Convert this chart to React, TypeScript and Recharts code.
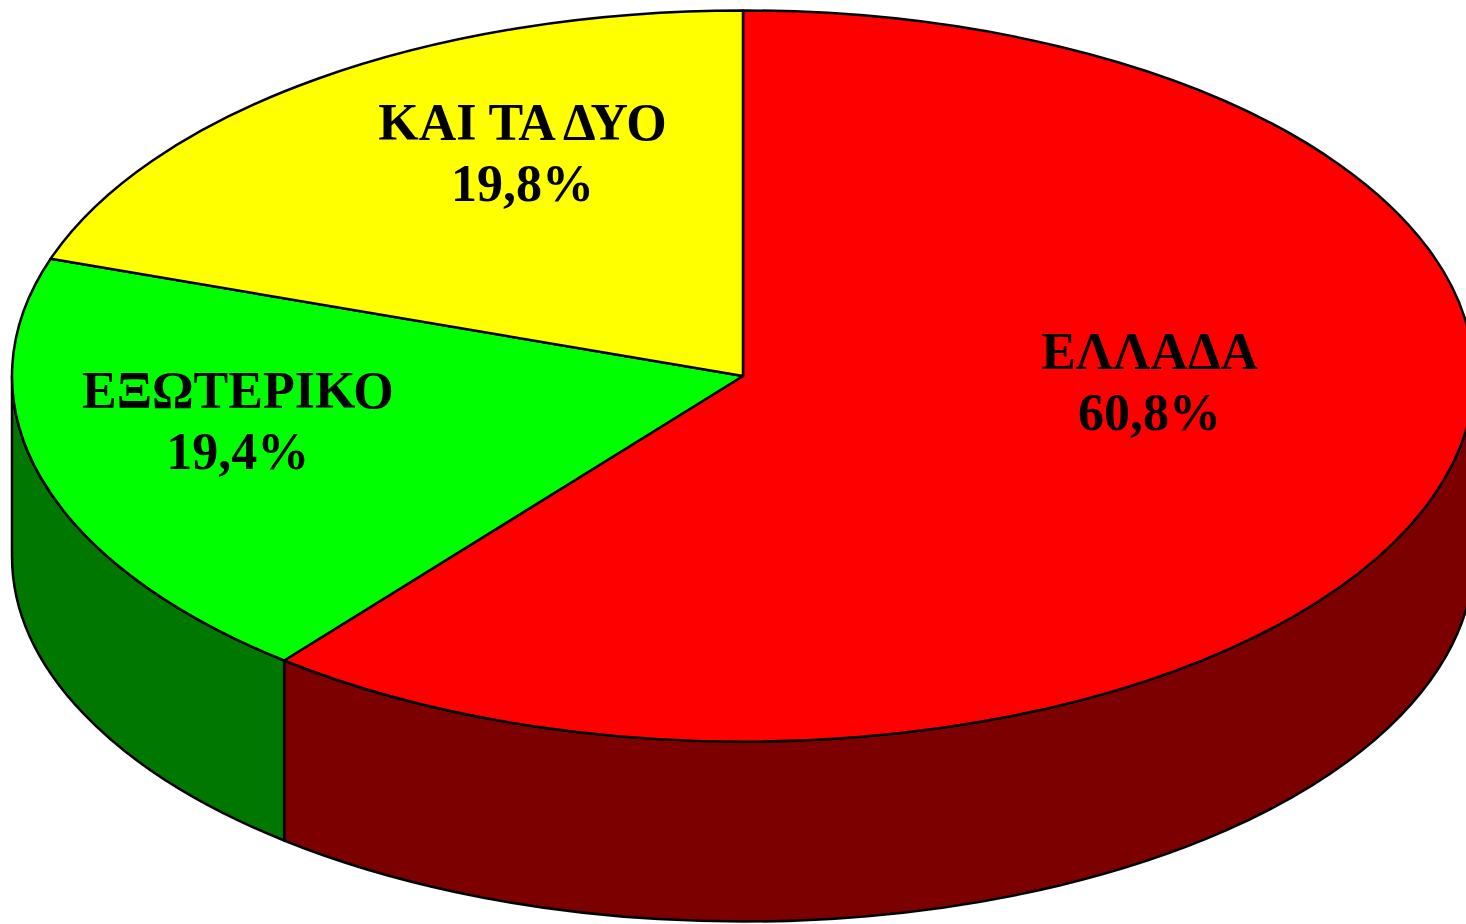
import React from "react";
import { PieChart, Pie } from "recharts";

const NAMES = ["ΕΛΛΑΔΑ", "ΕΞΩΤΕΡΙΚΟ", "ΚΑΙ ΤΑ ΔΥΟ"];
const VALUES = [60.8, 19.4, 19.8];
const TOP_COLORS = ["#ff0000", "#00ff00", "#ffff00"];
const SIDE_COLORS = ["#7d0000", "#007800", "#7d7d00"];

const data = NAMES.map((name, i) => ({
  name,
  value: VALUES[i],
  fill: TOP_COLORS[i],
  side: SIDE_COLORS[i],
}));

// perspective squash of the pie and thickness of the slab
const TILT = 0.5;
const DEPTH = 180;
const RAD = Math.PI / 180;
// excel nudges its labels to fit inside the slices
const LABEL_NUDGE = [[-7, -27], [-84, 24], [35, -5]];

const pt = (cx: number, cy: number, rx: number, ry: number, a: number, dy = 0) =>
  `${cx + rx * Math.cos(a * RAD)},${cy - ry * Math.sin(a * RAD) + dy}`;

function Slice3D(props: any) {
  const { cx, cy, outerRadius, startAngle, endAngle, fill, payload } = props;
  const rx = outerRadius;
  const ry = outerRadius * TILT;
  const hi = Math.max(startAngle, endAngle);
  const lo = Math.min(startAngle, endAngle);

  // walls: the parts of the arc that face the viewer (front half of the ellipse)
  const walls: React.ReactNode[] = [];
  for (let k = -2; k <= 1; k++) {
    const a1 = Math.min(hi, 360 * k);
    const a2 = Math.max(lo, 360 * k - 180);
    if (a1 - a2 <= 0.01) continue;
    const large = a1 - a2 > 180 ? 1 : 0;
    const d =
      `M${pt(cx, cy, rx, ry, a1)} A${rx},${ry} 0 ${large} 1 ${pt(cx, cy, rx, ry, a2)} ` +
      `L${pt(cx, cy, rx, ry, a2, DEPTH)} A${rx},${ry} 0 ${large} 0 ${pt(cx, cy, rx, ry, a1, DEPTH)} Z`;
    walls.push(
      <path key={k} d={d} fill={payload?.side ?? "#700"} stroke="#000" strokeWidth={2.5} strokeLinejoin="round" />
    );
  }

  const large = hi - lo > 180 ? 1 : 0;
  const top =
    `M${cx},${cy} L${pt(cx, cy, rx, ry, hi)} ` +
    `A${rx},${ry} 0 ${large} 1 ${pt(cx, cy, rx, ry, lo)} Z`;

  return (
    <g>
      {walls}
      <path d={top} fill={fill} stroke="#000" strokeWidth={2.5} strokeLinejoin="round" />
    </g>
  );
}

function renderLabel(props: any) {
  const { cx, cy, outerRadius, midAngle, index } = props;
  const rx = outerRadius * 0.6;
  const ry = outerRadius * TILT * 0.6;
  const [nx, ny] = LABEL_NUDGE[index] ?? [0, 0];
  const lx = cx + rx * Math.cos(midAngle * RAD) + nx;
  const ly = cy - ry * Math.sin(midAngle * RAD) - 40 + ny;
  const pct = VALUES[index].toFixed(1).replace(".", ",") + "%";
  return (
    <text
      key={`lbl-${index}`}
      x={lx}
      y={ly - 13}
      textAnchor="middle"
      fill="#000"
      fontFamily="'Liberation Serif', 'Times New Roman', serif"
      fontWeight="bold"
      fontSize={52}
    >
      <tspan x={lx} y={ly - 13}>{NAMES[index]}</tspan>
      <tspan x={lx} dy={61}>{pct}</tspan>
    </text>
  );
}

export default function App() {
  return (
    <div style={{ position: "absolute", left: 0, top: 0, width: 1466, height: 924, background: "#fff" }}>
      <PieChart width={1466} height={924} margin={{ top: 0, right: 0, bottom: 0, left: 0 }}>
        <Pie
          data={data}
          dataKey="value"
          nameKey="name"
          cx={743}
          cy={376}
          outerRadius={731}
          startAngle={90}
          endAngle={-270}
          shape={Slice3D}
          activeShape={Slice3D}
          inactiveShape={Slice3D}
          label={renderLabel}
          labelLine={false}
          isAnimationActive={false}
        />
      </PieChart>
    </div>
  );
}
